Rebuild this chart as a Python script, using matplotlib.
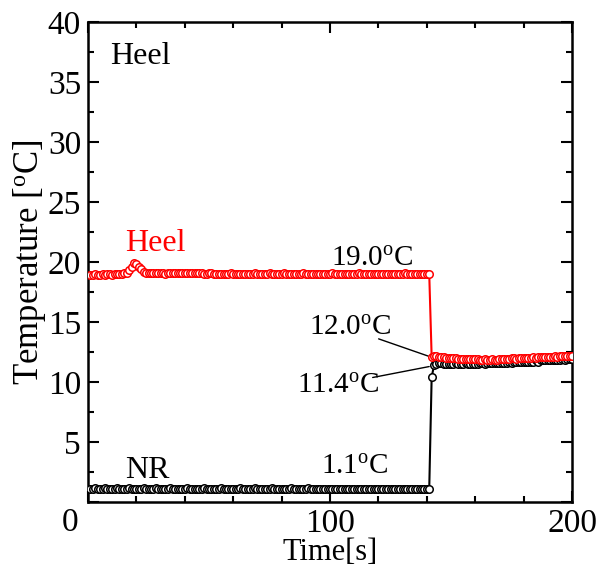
import matplotlib
matplotlib.use("Agg")
import matplotlib.pyplot as plt
import numpy as np

plt.rcParams['font.family'] = ['Liberation Serif', 'DejaVu Serif']
plt.rcParams['mathtext.fontset'] = 'custom'
plt.rcParams['mathtext.rm'] = 'Liberation Serif'
plt.rcParams['mathtext.it'] = 'Liberation Serif:italic'

time_s = list(range(1, 201))

heel_temp = [
    # t 1-15
    18.9, 18.9, 19.0, 18.9, 18.9, 19.0, 18.9, 19.0, 19.0, 18.9, 19.0, 19.0, 19.0, 19.0, 19.1,
    # t 16-25 (bump)
    19.1, 19.3, 19.6, 19.9, 19.8, 19.6, 19.4, 19.2, 19.1, 19.1,
    # t 26-45
    19.1, 19.1, 19.1, 19.1, 19.1, 19.1, 19.0, 19.1, 19.1, 19.1, 19.1, 19.1, 19.1, 19.1, 19.1,
    19.1, 19.1, 19.1, 19.1, 19.1,
    # t 46-65
    19.1, 19.1, 19.0, 19.0, 19.1, 19.1, 19.0, 19.0, 19.0, 19.0, 19.0, 19.0, 19.0, 19.1, 19.0,
    19.0, 19.0, 19.0, 19.0, 19.0,
    # t 66-85
    19.0, 19.0, 19.0, 19.1, 19.0, 19.0, 19.0, 19.0, 19.0, 19.1, 19.0, 19.0, 19.0, 19.0, 19.0,
    19.1, 19.0, 19.0, 19.0, 19.0,
    # t 86-105
    19.0, 19.0, 19.0, 19.1, 19.0, 19.0, 19.0, 19.0, 19.0, 19.0, 19.0, 19.0, 19.0, 19.0, 19.0,
    19.1, 19.0, 19.0, 19.0, 19.0,
    # t 106-125
    19.0, 19.0, 19.0, 19.0, 19.0, 19.0, 19.1, 19.0, 19.0, 19.0, 19.0, 19.0, 19.0, 19.0, 19.0,
    19.0, 19.0, 19.0, 19.0, 19.0,
    # t 126-141
    19.0, 19.0, 19.0, 19.0, 19.0, 19.1, 19.0, 19.0, 19.0, 19.0, 19.0, 19.0, 19.0, 19.0, 19.0,
    19.0,
    # t 142
    12.1,
    # t 143-150
    12.2, 12.2, 12.1, 12.1, 12.1, 12.0, 12.0, 12.0,
    # t 151-160
    12.0, 12.0, 11.9, 11.9, 11.9, 11.9, 11.9, 11.9, 11.9, 11.9,
    # t 161-170
    11.9, 11.8, 11.8, 11.9, 11.8, 11.8, 11.9, 11.8, 11.8, 11.9,
    # t 171-180
    11.9, 11.9, 11.9, 11.9, 12.0, 12.0, 11.9, 12.0, 12.0, 12.0,
    # t 181-190
    12.0, 12.0, 12.0, 12.1, 12.0, 12.1, 12.1, 12.1, 12.1, 12.1,
    # t 191-200
    12.1, 12.1, 12.2, 12.1, 12.2, 12.2, 12.2, 12.2, 12.2, 12.2,
]

nr_temp = [
    # t 1-20
    1.1, 1.1, 1.2, 1.1, 1.1, 1.1, 1.2, 1.1, 1.1, 1.1, 1.1, 1.2, 1.1, 1.1, 1.1, 1.1, 1.2, 1.1, 1.1, 1.1,
    # t 21-40
    1.1, 1.1, 1.2, 1.1, 1.1, 1.1, 1.1, 1.2, 1.1, 1.1, 1.1, 1.1, 1.1, 1.2, 1.1, 1.1, 1.1, 1.1, 1.1, 1.1,
    # t 41-60
    1.2, 1.1, 1.1, 1.1, 1.1, 1.1, 1.1, 1.2, 1.1, 1.1, 1.1, 1.1, 1.1, 1.1, 1.2, 1.1, 1.1, 1.1, 1.1, 1.1,
    # t 61-80
    1.1, 1.1, 1.2, 1.1, 1.1, 1.1, 1.1, 1.1, 1.2, 1.1, 1.1, 1.1, 1.1, 1.1, 1.1, 1.2, 1.1, 1.1, 1.1, 1.1,
    # t 81-100
    1.1, 1.1, 1.1, 1.2, 1.1, 1.1, 1.1, 1.1, 1.1, 1.1, 1.2, 1.1, 1.1, 1.1, 1.1, 1.1, 1.1, 1.1, 1.1, 1.1,
    # t 101-120
    1.1, 1.1, 1.1, 1.1, 1.1, 1.1, 1.1, 1.1, 1.1, 1.1, 1.1, 1.1, 1.1, 1.1, 1.1, 1.1, 1.1, 1.1, 1.1, 1.1,
    # t 121-141
    1.1, 1.1, 1.1, 1.1, 1.1, 1.1, 1.1, 1.1, 1.1, 1.1, 1.1, 1.1, 1.1, 1.1, 1.1, 1.1, 1.1, 1.1, 1.1, 1.1,
    1.1,
    # t 142
    10.4,
    # t 143-150
    11.4, 11.5, 11.6, 11.6, 11.5, 11.5, 11.5, 11.5,
    # t 151-160
    11.5, 11.6, 11.5, 11.5, 11.5, 11.6, 11.5, 11.5, 11.5, 11.5,
    # t 161-170
    11.5, 11.6, 11.6, 11.5, 11.6, 11.6, 11.6, 11.6, 11.6, 11.6,
    # t 171-180
    11.6, 11.6, 11.6, 11.7, 11.6, 11.7, 11.7, 11.7, 11.7, 11.7,
    # t 181-190
    11.7, 11.7, 11.7, 11.7, 11.8, 11.7, 11.8, 11.8, 11.8, 11.8,
    # t 191-200
    11.8, 11.8, 11.8, 11.8, 11.8, 11.9, 11.8, 11.9, 11.9, 11.9,
]

x_ticks = [0, 100, 200]
x_ticklabels = ['', '100', '200']
y_ticks = [0, 5, 10, 15, 20, 25, 30, 35, 40]
y_ticklabels = ['', '5', '10', '15', '20', '25', '30', '35', '40']

fig = plt.figure(figsize=(6.03, 5.76), dpi=100)
ax = fig.add_axes([0.146, 0.1285, 0.8026, 0.8333])

ax.plot(time_s, nr_temp, color='black', lw=1.5, marker='o', ms=5.4,
        mfc='white', mec='black', mew=1.1, zorder=3)
ax.plot(time_s, heel_temp, color='red', lw=1.5, marker='o', ms=5.4,
        mfc='white', mec='red', mew=1.1, zorder=4)

ax.set_xlim(0, 200)
ax.set_ylim(0, 40)
ax.set_xticks(x_ticks)
ax.set_xticklabels(x_ticklabels)
ax.set_yticks(y_ticks)
ax.set_yticklabels(y_ticklabels)
ax.set_xticks(np.arange(0, 201, 20), minor=True)
ax.set_yticks(np.arange(0, 40.1, 2.5), minor=True)
ax.tick_params(which='both', direction='in', top=True, right=True, labelsize=24, width=1.5)
ax.tick_params(which='major', length=8, pad=5)
ax.tick_params(which='minor', length=4.5)
for s in ax.spines.values():
    s.set_linewidth(1.8)

ax.text(-7.5, -1.7, '0', fontsize=24, ha='center', va='center', clip_on=False)

ax.set_xlabel('Time[s]', fontsize=22, labelpad=-1)
ax.set_ylabel('Temperature [$^{\\mathrm{o}}$C]', fontsize=25, labelpad=0)

fs = 23
vs = 21
ax.text(21.5, 37.1, 'Heel', fontsize=fs, ha='center', va='center')
ax.text(27.7, 21.5, 'Heel', fontsize=fs, ha='center', va='center', color='red')
ax.text(24.4, 2.6, 'NR', fontsize=fs, ha='center', va='center')
ax.text(117.4, 20.3, '19.0$^{\\mathrm{o}}$C', fontsize=vs, ha='center', va='center')
ax.text(108.3, 14.5, '12.0$^{\\mathrm{o}}$C', fontsize=vs, ha='center', va='center')
ax.text(103.3, 9.67, '11.4$^{\\mathrm{o}}$C', fontsize=vs, ha='center', va='center')
ax.text(110.3, 2.9, '1.1$^{\\mathrm{o}}$C', fontsize=vs, ha='center', va='center')

ax.annotate('', xy=(141.7, 12.08), xytext=(119.0, 13.67),
            arrowprops=dict(arrowstyle='-', color='black', lw=1.0))
ax.annotate('', xy=(142.1, 11.33), xytext=(116.5, 10.33),
            arrowprops=dict(arrowstyle='-', color='black', lw=1.0))

fig.savefig('out.png', dpi=100)
